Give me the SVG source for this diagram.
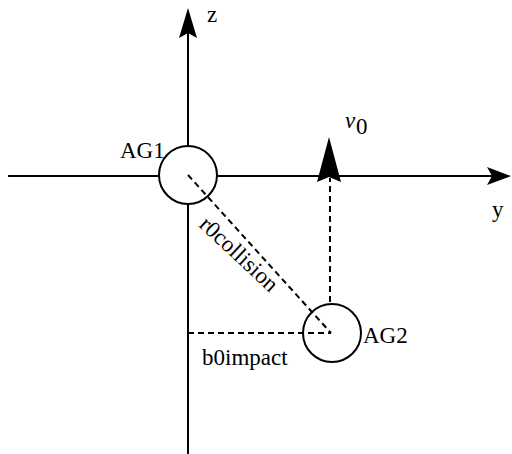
<svg xmlns="http://www.w3.org/2000/svg" width="512" height="454" viewBox="0 0 512 454">
<style>
.ax{stroke:#000;stroke-width:2;fill:none}
.ds{stroke:#000;stroke-width:2;fill:none;stroke-dasharray:6,4}
.ah{fill:#000;stroke:none}
.nd{fill:#fff;stroke:#000;stroke-width:2}
text{font-family:"Liberation Serif","Times New Roman",serif;font-size:23px;fill:#000}
</style>
<g id="axes">
<line class="ax" x1="188" y1="30" x2="188" y2="454"/>
<line class="ax" x1="8" y1="176" x2="495" y2="176"/>
<polygon class="ah" points="188,8 197,38 188,33 179,38"/>
<polygon class="ah" points="511,176 487,185 492,176 487,167"/>
</g>
<g id="AG1">
<circle class="nd" cx="188" cy="175" r="29"/>
<text x="120" y="158">AG1</text>
</g>
<g id="AG2">
<circle class="nd" cx="332" cy="333" r="29"/>
<text x="363" y="343">AG2</text>
</g>
<g id="connectors">
<line class="ds" x1="188" y1="175" x2="331" y2="333"/>
<line class="ds" x1="188" y1="333" x2="331" y2="333"/>
<line class="ds" x1="330" y1="302" x2="330" y2="178"/>
<polygon class="ah" points="329,137 341,182 329,177 317,182"/>
</g>
<g id="labels">
<text x="207" y="22">z</text>
<text x="492" y="217">y</text>
<text x="345" y="128" font-style="italic">v</text>
<text x="356" y="134" font-size="16">0</text>
<text x="202" y="365" font-size="24">b0impact</text>
<text transform="translate(198,226) rotate(43)" font-size="24">r0collision</text>
</g>
</svg>
